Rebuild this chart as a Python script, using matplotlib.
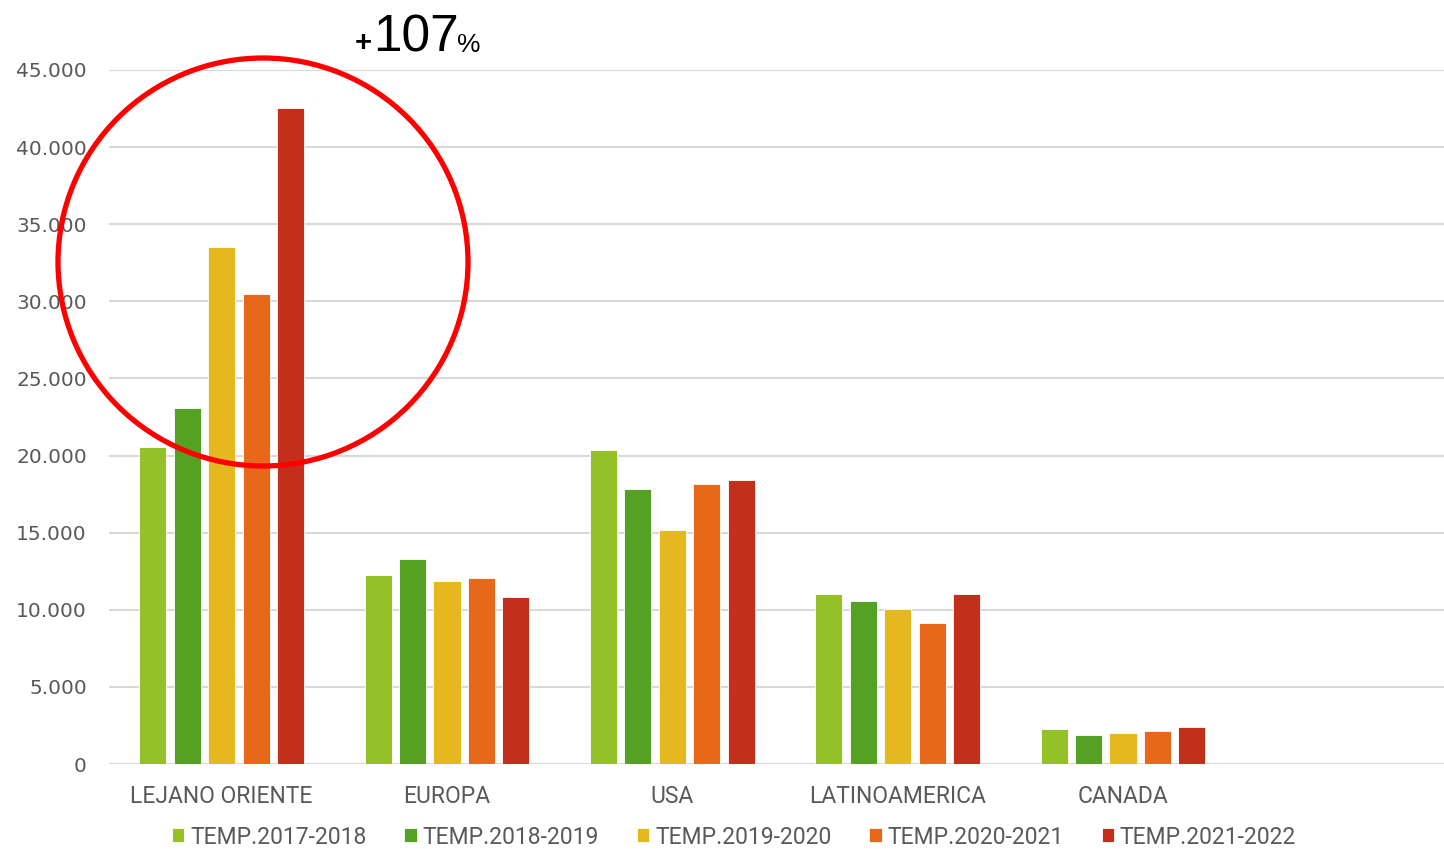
import matplotlib
matplotlib.use('Agg')
import matplotlib.pyplot as plt
from matplotlib.patches import Ellipse
import numpy as np

categories = ['LEJANO ORIENTE', 'EUROPA', 'USA', 'LATINOAMERICA', 'CANADA', '']
seasons = ['TEMP.2017-2018', 'TEMP.2018-2019', 'TEMP.2019-2020', 'TEMP.2020-2021', 'TEMP.2021-2022']
t2017 = [20550, 12260, 20360, 11020, 2270, 0]
t2018 = [23090, 13300, 17830, 10570, 1880, 0]
t2019 = [33530, 11870, 15180, 10050, 2000, 0]
t2020 = [30480, 12060, 18160, 9140, 2140, 0]
t2021 = [42540, 10830, 18420, 11020, 2400, 0]
colors = ['#93C127', '#55A124', '#E5B820', '#E8681A', '#C42F1C']

series = [t2017, t2018, t2019, t2020, t2021]
fig = plt.figure(figsize=(14.44, 8.49), dpi=100)
# axes runs a little past the right edge, as in the original
ax = fig.add_axes([109/1444, 1-764/849, 1352/1444, (764-70)/849])

x = np.arange(len(categories))
for j, (vals, c, lab) in enumerate(zip(series, colors, seasons)):
    ax.bar(x + 0.153*(j-2), vals, width=0.12, color=c, edgecolor='white', linewidth=0.6, label=lab, zorder=3)

ax.set_xlim(-0.5, len(categories)-0.5)
ax.set_ylim(0, 45000)
ax.set_yticks(range(0, 45001, 5000))
ax.set_yticklabels(['0' if v == 0 else f'{v//1000}.000' for v in range(0, 45001, 5000)])
ax.yaxis.grid(True, color='#D9D9D9', linewidth=1.5, zorder=0)
ax.set_xticks(x)
ax.set_xticklabels(categories, fontname='Roboto', fontsize=16.5, color='#595959')
for s in ax.spines.values():
    s.set_visible(False)
ax.tick_params(axis='y', length=0, pad=16, labelsize=14.5, labelcolor='#595959')
ax.tick_params(axis='x', length=0, pad=15)

fig.legend(loc='center', bbox_to_anchor=(734/1444, 1-837/849), ncol=5, frameon=False,
           prop={'family': 'Roboto', 'size': 16.5}, labelcolor='#595959',
           handlelength=0.55, handleheight=0.55, handletextpad=0.25, columnspacing=1.65)

fig.add_artist(Ellipse((263/1444, 1-262/849), width=410/1444, height=408/849,
                       transform=fig.transFigure, fill=False, edgecolor='#FF0000', linewidth=3.8))

fig.text(355/1444, 1-51/849, '+', fontname='Liberation Sans', fontsize=21, fontweight='bold', ha='left', va='baseline')
fig.text(373/1444, 1-52/849, '107', fontname='Liberation Sans', fontsize=37, ha='left', va='baseline')
fig.text(457/1444, 1-52/849, '%', fontname='Liberation Sans', fontsize=19, ha='left', va='baseline')

fig.savefig('out.png', dpi=100)
